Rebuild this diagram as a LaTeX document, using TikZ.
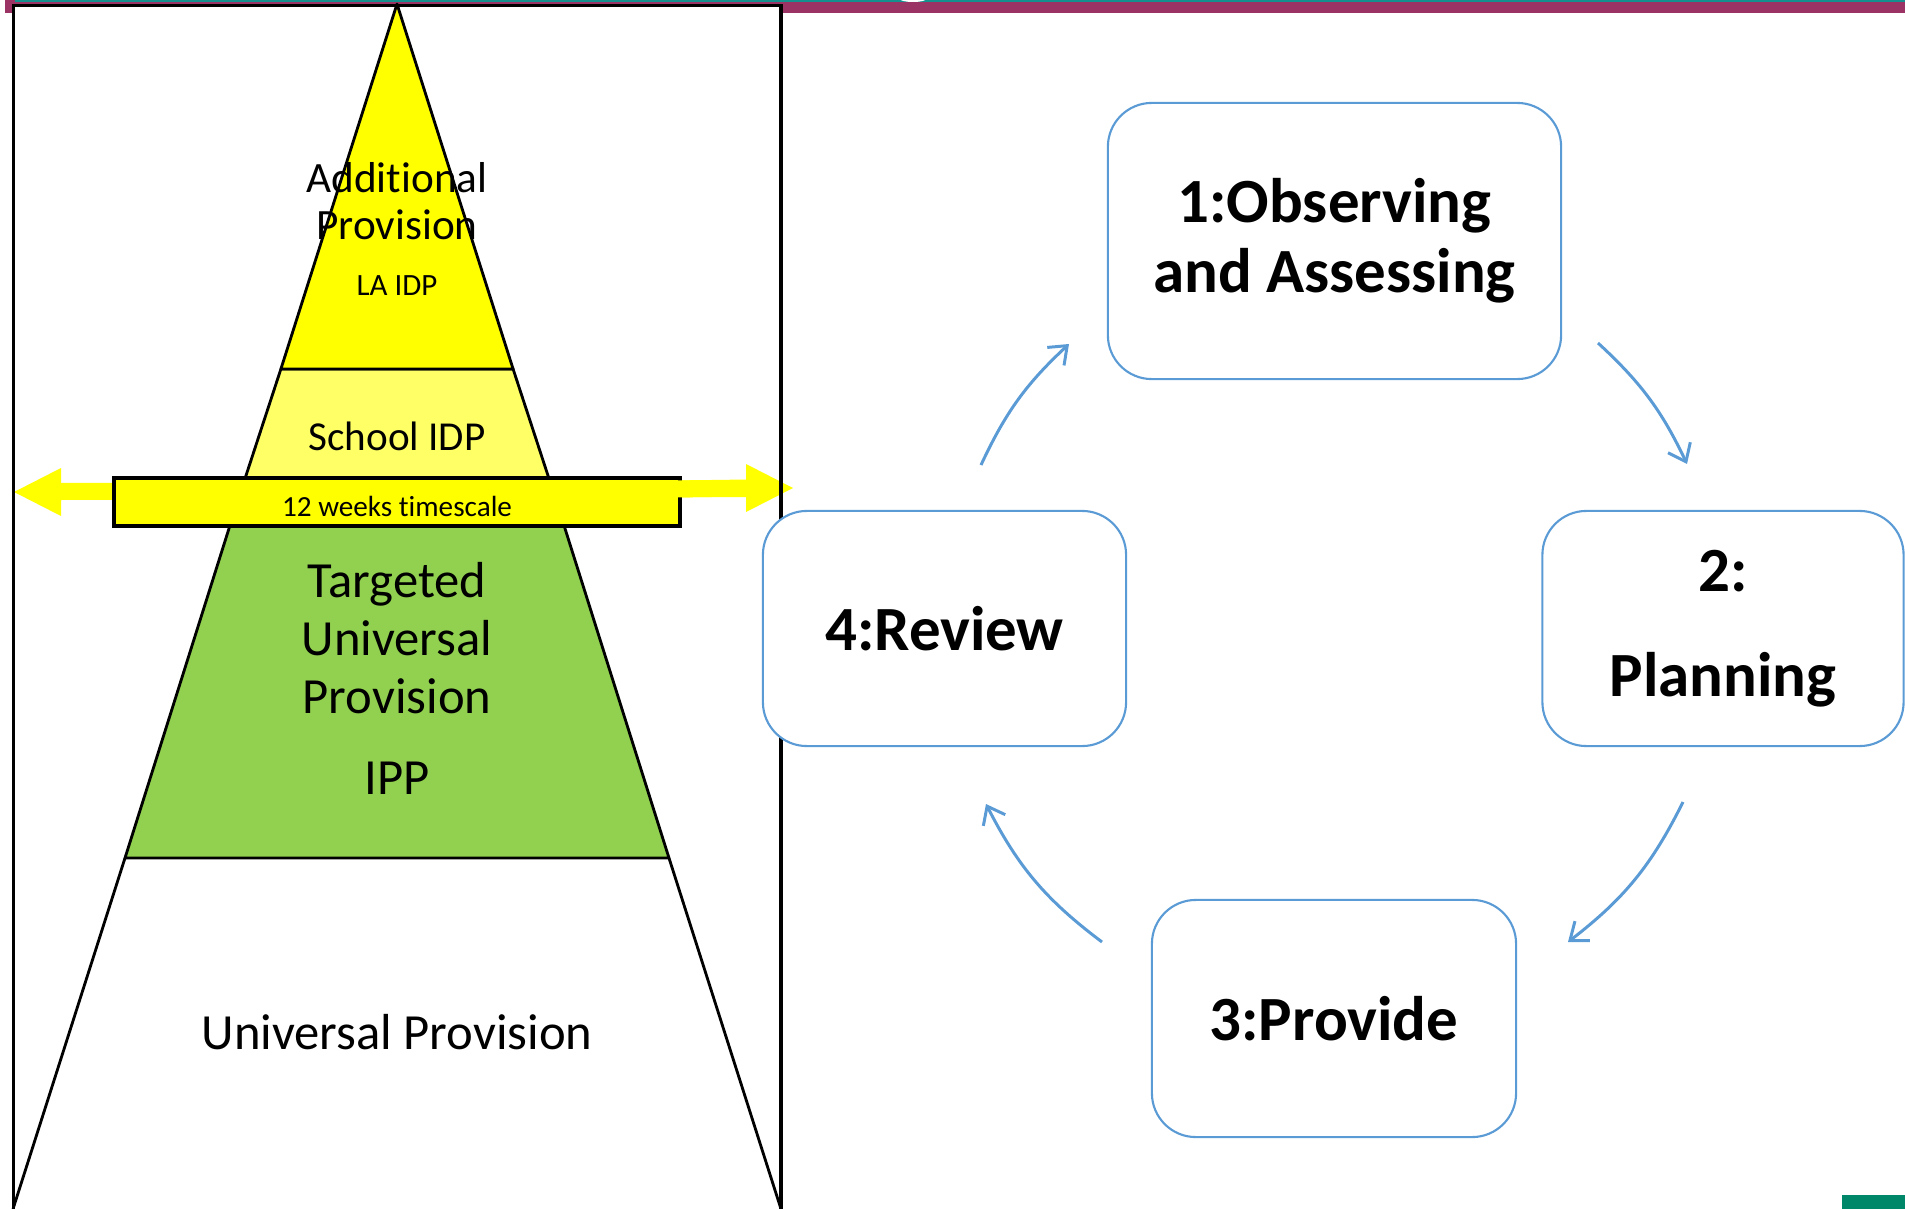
\documentclass[tikz,border=0pt]{standalone}
\usepackage{fontspec}
\setmainfont{Carlito}[Ligatures=NoCommon]
\usetikzlibrary{arrows.meta}
\definecolor{purplebar}{HTML}{9B3464}
\definecolor{tealline}{HTML}{14908E}
\definecolor{pyryellow}{HTML}{FFFF00}
\definecolor{pyrlight}{HTML}{FFFF66}
\definecolor{pyrgreen}{HTML}{92D050}
\definecolor{cycblue}{HTML}{5B9BD5}
\definecolor{cornergreen}{HTML}{00876A}
\begin{document}
\begin{tikzpicture}[x=0.01cm,y=-0.01cm,
  layer/.style={draw=black,line width=0.8pt,line join=round},
  cycbox/.style={draw=cycblue,line width=0.6pt,fill=white,rounded corners=12.5pt,
    align=center,inner sep=0pt},
  boxfont/.style={font=\fontsize{17.9}{19.9}\selectfont\bfseries},
  cycarrow/.style={draw=cycblue,line width=0.85pt,-{Straight Barb[length=4.5pt,width=7pt]}},
  pyrtext/.style={align=center,inner sep=0pt},
  pyrline/.style={anchor=base,inner sep=0pt}]
\useasboundingbox (0,0) rectangle (1905,1209);
% top band
\fill[purplebar] (5,0) rectangle (1905,13);
\fill[tealline] (15,0) rectangle (1905,2);
\fill[white] (913,-1) ellipse (13 and 3);
\fill[cornergreen] (1842,1195) rectangle (1905,1209);
% left frame background
\fill[white] (13.5,5.5) rectangle (781,1215);
% pyramid layers
\draw[layer] (125,858) -- (13,1209) (669,858) -- (781,1209);
\draw[layer,fill=pyrgreen] (238,500) -- (556,500) -- (669,858) -- (125,858) -- cycle;
\draw[layer,fill=pyrlight] (280.9,369) -- (513.1,369) -- (556,500) -- (238,500) -- cycle;
\draw[layer,fill=pyryellow] (397,4) -- (513.1,369) -- (280.9,369) -- cycle;
% double arrow
\fill[pyryellow] (14,492) -- (61,468) -- (61,483) -- (746,480) -- (746,464) -- (793,488)
  -- (746,512) -- (746,497) -- (61,500) -- (61,516) -- cycle;
% band
\draw[fill=pyryellow,line width=1.15pt] (114,478) rectangle (680,526);
\fill[pyryellow] (674,480.5) -- (748,479.5) -- (748,496.5) -- (674,497.5) -- cycle;
% frame
\draw[line width=1.1pt] (13.5,1215) -- (13.5,5.5) -- (781,5.5) -- (781,1215);
% pyramid texts
\node[pyrtext,font=\fontsize{12.3}{13.4}\selectfont] (addprov) at (397,201) {Additional\\Provision};
\node[pyrline,font=\fontsize{8.8}{10}\selectfont] (laidp) at (397,295) {LA IDP};
\node[pyrline,font=\fontsize{11.7}{13}\selectfont] (school) at (397,450) {School IDP};
\node[pyrline,font=\fontsize{8.3}{10}\selectfont] (weeks) at (397,516) {12 weeks timescale};
\node[pyrtext,font=\fontsize{14.4}{16.5}\selectfont] (targeted) at (397,638) {Targeted\\Universal\\Provision};
\node[pyrline,font=\fontsize{14.4}{16}\selectfont] (ipp) at (397,794) {IPP};
\node[pyrline,font=\fontsize{14.4}{16}\selectfont] (univ) at (397,1049) {Universal Provision};
% cycle boxes
\node[cycbox,boxfont,minimum width=4.53cm,minimum height=2.76cm] (obs) at (1334.5,241) {1:Observing\\and Assessing};
\node[cycbox,font=\fontsize{17.9}{30}\selectfont\bfseries,minimum width=3.61cm,minimum height=2.35cm] (plan) at (1723,628.5) {2:\\Planning};
\node[cycbox,boxfont,minimum width=3.64cm,minimum height=2.37cm] (prov) at (1334,1018.5) {3:Provide};
\node[cycbox,boxfont,minimum width=3.63cm,minimum height=2.35cm] (rev) at (944.5,628.5) {4:Review};
% cycle arrows
\coordinate (a41s) at (981,465); \coordinate (a41e) at (1069,344);
\coordinate (a12s) at (1598,343); \coordinate (a12e) at (1687,464);
\coordinate (a23s) at (1683,802); \coordinate (a23e) at (1568,942);
\coordinate (a34s) at (1102,942); \coordinate (a34e) at (986,804);
\draw[cycarrow] (a41s) to[bend left=11] (a41e);
\draw[cycarrow] (a12s) to[bend left=11] (a12e);
\draw[cycarrow] (a23s) to[bend left=13] (a23e);
\draw[cycarrow] (a34s) to[bend left=13] (a34e);
\end{tikzpicture}
\end{document}
